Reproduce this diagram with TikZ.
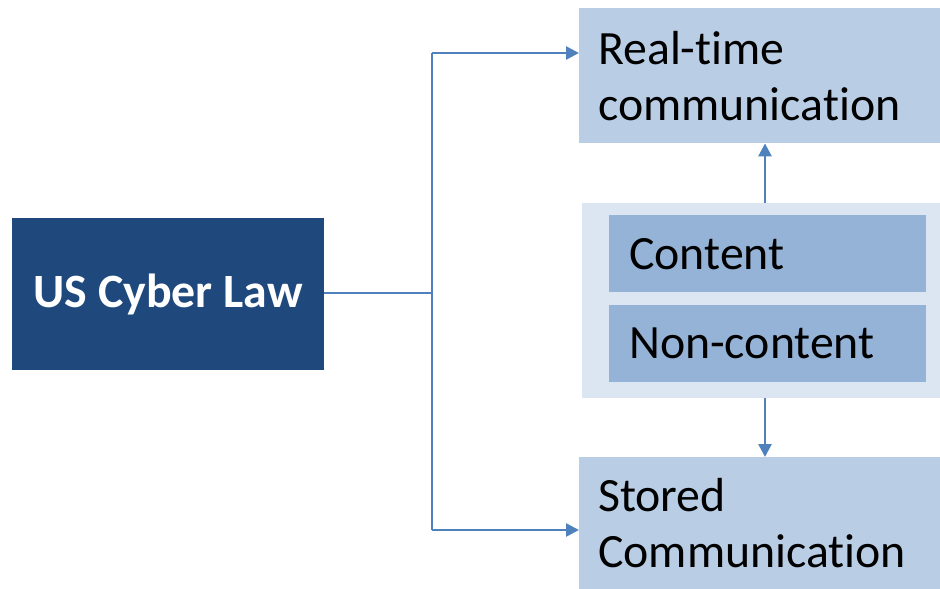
\documentclass[tikz,border=0pt]{standalone}
\usepackage{fontspec}
\setmainfont{Carlito}[Ligatures={NoCommon}]
\usetikzlibrary{arrows.meta}
\definecolor{lawblue}{HTML}{1F497D}
\definecolor{boxblue}{HTML}{B9CDE5}
\definecolor{paleblue}{HTML}{DCE6F2}
\definecolor{midblue}{HTML}{95B3D7}
\definecolor{linkblue}{HTML}{4F81BD}
\tikzset{
  every node/.style={font=\fontsize{47.8}{56}\selectfont, text=black},
  lawbox/.style={fill=lawblue, text=white, font=\fontsize{47.8}{56}\selectfont\bfseries,
    minimum width=312pt, minimum height=152pt, anchor=north west, inner sep=0pt},
  outbox/.style={fill=boxblue, minimum width=361pt, anchor=north west,
    text width=323pt, inner xsep=19pt, inner ysep=0pt, align=left},
  groupbox/.style={fill=paleblue, minimum width=358pt, minimum height=195pt,
    anchor=north west, inner sep=0pt},
  itembox/.style={fill=midblue, minimum width=317pt, minimum height=77pt,
    anchor=north west, text width=277pt, inner xsep=20pt, inner ysep=0pt, align=left},
  link/.style={draw=linkblue, line width=2.6pt},
  arrow/.style={link, -{Triangle[length=13pt,width=13pt]}}
}
\begin{document}
\begin{tikzpicture}[x=1pt,y=-1pt]
  \useasboundingbox (0,0) rectangle (940,589);
  % main topic
  \node[lawbox] (law) at (12,218) {US Cyber Law};
  % targets
  \node[outbox, minimum height=135pt] (rt) at (579,8) {Real-time\\communication};
  \node[outbox, minimum height=132pt] (st) at (579,457) {Stored\\Communication};
  % content / non-content group
  \node[groupbox] (grp) at (582,203) {};
  \node[itembox] (ct) at (609,215) {Content};
  \node[itembox] (nc) at (609,305) {Non-content};
  % branching connector
  \coordinate (jm) at (432,293);
  \coordinate (jt) at (432,53);
  \coordinate (jb) at (432,530);
  \coordinate (ax) at (765,0);
  \draw[link] (law.east |- jm) -- (jm);
  \draw[link] (jt) -- (jb);
  \draw[arrow] (jt) -- (rt.west |- jt);
  \draw[arrow] (jb) -- (st.west |- jb);
  \draw[arrow] (grp.north -| ax) -- (rt.south -| ax);
  \draw[arrow] (grp.south -| ax) -- (st.north -| ax);
\end{tikzpicture}
\end{document}
